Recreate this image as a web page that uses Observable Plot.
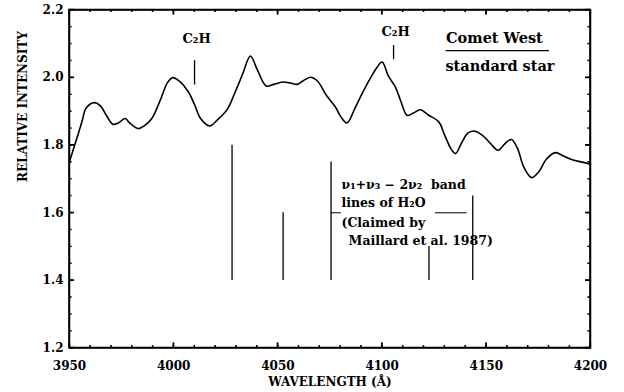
<!DOCTYPE html>
<html><head><meta charset="utf-8">
<script src="https://cdn.jsdelivr.net/npm/d3@7"></script>
<script src="https://cdn.jsdelivr.net/npm/@observablehq/plot@0.6"></script>
<style>body{margin:0;background:#fff} svg{display:block}</style>
</head><body><div id="chart"></div>
<script>
// Spectrum ratio Comet West / standard star
const wavelength = [3950,3953,3956,3958,3962,3965,3968,3970.8,3973.5,3976.7,3979,3983,3986,3989.5,3994,3997,3999.6,4003,4007,4010,4013,4017.2,4021,4025.7,4029,4033,4036.8,4040,4044.4,4048,4052.3,4056,4059.3,4062,4065.6,4069,4073,4077.6,4080,4083.2,4087,4091,4095,4097.5,4100,4103,4106.4,4109,4112,4115,4118.4,4122,4127.2,4130,4133,4135.2,4138,4141,4144,4148,4152,4155.7,4159,4162.1,4165,4168,4171.7,4175,4179,4183.2,4187,4191.2,4196,4200];
const intensity  = [1.752,1.81,1.87,1.91,1.926,1.915,1.885,1.862,1.866,1.879,1.865,1.849,1.858,1.879,1.94,1.985,2.0,1.988,1.958,1.92,1.878,1.857,1.875,1.906,1.95,2.009,2.064,2.025,1.975,1.98,1.987,1.984,1.98,1.99,2.001,1.99,1.95,1.913,1.886,1.866,1.91,1.96,2.005,2.03,2.046,2.005,1.972,1.93,1.888,1.895,1.905,1.89,1.869,1.83,1.79,1.775,1.805,1.835,1.842,1.83,1.805,1.785,1.805,1.817,1.79,1.735,1.704,1.72,1.76,1.778,1.768,1.757,1.75,1.744];

// H2O band lines (Maillard et al. 1987)
const h2oWave = [4028, 4052.5, 4075.5, 4122.5, 4143.5];
const h2oTop = [1.8, 1.6, 1.75, 1.5, 1.65];
const h2oBase = 1.4;
const pointerX1 = [4075.5, 4125.6];
const pointerX2 = [4080.5, 4140.8];
const pointerY = [1.6, 1.6];

// C2H markers
const c2hWave = [4010, 4105.5];
const c2hLow = [1.978, 2.053];
const c2hHigh = [2.05, 2.095];
const c2hLabelX = [4011, 4106.5];
const c2hLabelY = [2.116, 2.134];
const c2hLabel = ["C\u2082H", "C\u2082H"];

// Notes
const noteText = ["\u03BD\u2081+\u03BD\u2083 \u2212 2\u03BD\u2082  band", "lines of H\u2082O", "(Claimed by", "Maillard et al. 1987)"];
const noteX = [4080.5, 4080.5, 4080.5, 4083.9];
const noteY = [1.682, 1.628, 1.57, 1.517];

// Ratio legend
const legendText = ["Comet West", "standard star"];
const legendX = [4130.7, 4130.4];
const legendY = [2.116, 2.034];
const legendLineX = [4130.7, 4180.3];
const legendLineY = 2.08;

// Axes
const xDomain = [3950, 4200];
const yDomain = [1.2, 2.2];
const xMajor = [3950, 4000, 4050, 4100, 4150, 4200];
const yMajor = [1.2, 1.4, 1.6, 1.8, 2.0, 2.2];
const xMinor = d3.range(3950, 4201, 10);
const yMinor = d3.range(1.2, 2.2001, 0.05);
const xLabel = "WAVELENGTH (\u00C5)";
const yLabel = "RELATIVE INTENSITY";

const W = 624, H = 392;
const mt = 9.5, mb = 44.5, ml = 69, mr = 34;
const ih = H - mt - mb, iw = W - ml - mr;

const spectrum = wavelength.map((w, i) => ({w, v: intensity[i]}));
const h2o = h2oWave.map((w, i) => ({w, top: h2oTop[i], base: h2oBase}));
const pointers = pointerX1.map((x1, i) => ({x1, x2: pointerX2[i], y: pointerY[i]}));
const c2h = c2hWave.map((w, i) => ({w, lo: c2hLow[i], hi: c2hHigh[i], lx: c2hLabelX[i], ly: c2hLabelY[i], t: c2hLabel[i]}));
const notes = noteText.map((t, i) => ({t, x: noteX[i], y: noteY[i]}));
const legend = legendText.map((t, i) => ({t, x: legendX[i], y: legendY[i]}));

const ff = "DejaVu Serif";
const k = "#000";

const chart = Plot.plot({
  width: W, height: H,
  marginTop: mt, marginBottom: mb, marginLeft: ml, marginRight: mr,
  x: {domain: xDomain},
  y: {domain: yDomain},
  marks: [
    Plot.frame({stroke: k, strokeWidth: 1.5}),
    Plot.tickX(xMajor, {x: d => d, insetTop: ih - 5, stroke: k, strokeWidth: 1.2}),
    Plot.tickX(xMajor, {x: d => d, insetBottom: ih - 5, stroke: k, strokeWidth: 1.2}),
    Plot.tickX(xMinor, {x: d => d, insetTop: ih - 2.5, stroke: k}),
    Plot.tickX(xMinor, {x: d => d, insetBottom: ih - 2.5, stroke: k}),
    Plot.tickY(yMajor, {y: d => d, insetRight: iw - 5, stroke: k, strokeWidth: 1.2}),
    Plot.tickY(yMajor, {y: d => d, insetLeft: iw - 5, stroke: k, strokeWidth: 1.2}),
    Plot.tickY(yMinor, {y: d => d, insetRight: iw - 2.5, stroke: k}),
    Plot.tickY(yMinor, {y: d => d, insetLeft: iw - 2.5, stroke: k}),
    Plot.axisX({ticks: xMajor, tickSize: 0, tickPadding: 13, tickFormat: d => String(d), fontSize: 12, fontWeight: "bold", fontFamily: ff, fill: k, label: null}),
    Plot.axisY({ticks: yMajor, tickSize: 0, tickPadding: 6, tickFormat: d3.format(".1f"), fontSize: 12, fontWeight: "bold", fontFamily: ff, fill: k, label: null}),
    Plot.text([xLabel], {frameAnchor: "bottom", dy: 38, fontSize: 12, fontWeight: "bold", fontFamily: ff, fill: k}),
    Plot.text([yLabel], {frameAnchor: "left", dx: -46, dy: 3, rotate: -90, fontSize: 12, fontWeight: "bold", fontFamily: ff, fill: k}),
    Plot.line(spectrum, {x: "w", y: "v", curve: "catmull-rom", stroke: k, strokeWidth: 1.6}),
    Plot.ruleX(h2o, {x: "w", y1: "base", y2: "top", stroke: k, strokeWidth: 1.3}),
    Plot.ruleY(pointers, {y: "y", x1: "x1", x2: "x2", stroke: k, strokeWidth: 1}),
    Plot.ruleX(c2h, {x: "w", y1: "lo", y2: "hi", stroke: k, strokeWidth: 1.3}),
    Plot.text(c2h, {x: "lx", y: "ly", text: "t", fontSize: 13, fontWeight: "bold", fontFamily: ff, fill: k}),
    Plot.text(notes, {x: "x", y: "y", text: "t", textAnchor: "start", fontSize: 12.5, fontWeight: "bold", fontFamily: ff, fill: k}),
    Plot.text(legend, {x: "x", y: "y", text: "t", textAnchor: "start", fontSize: 14.5, fontWeight: "bold", fontFamily: ff, fill: k}),
    Plot.ruleY([legendLineY], {x1: legendLineX[0], x2: legendLineX[1], stroke: k, strokeWidth: 1.2})
  ]
});
document.getElementById("chart").appendChild(chart);

// Overlay: frame and inward ticks drawn through the chart's own scales
const sx = chart.scale("x"), sy = chart.scale("y");
const x0 = sx.apply(xDomain[0]), x1 = sx.apply(xDomain[1]);
const y0 = sy.apply(yDomain[0]), y1 = sy.apply(yDomain[1]);
const g = d3.select(chart).append("g").attr("fill", "none").attr("stroke", k);
let p = `M${x0},${y1}H${x1}V${y0}H${x0}Z`;
g.append("path").attr("d", p).attr("stroke-width", 1.6);
let t = "";
for (const v of xMinor) { const x = sx.apply(v); t += `M${x},${y0}v-2.5M${x},${y1}v2.5`; }
for (const v of yMinor) { const y = sy.apply(v); t += `M${x0},${y}h2.5M${x1},${y}h-2.5`; }
g.append("path").attr("d", t).attr("stroke-width", 1);
let tm = "";
for (const v of xMajor) { const x = sx.apply(v); tm += `M${x},${y0}v-5M${x},${y1}v5`; }
for (const v of yMajor) { const y = sy.apply(v); tm += `M${x0},${y}h5M${x1},${y}h-5`; }
g.append("path").attr("d", tm).attr("stroke-width", 1.3);
</script>
</body></html>
